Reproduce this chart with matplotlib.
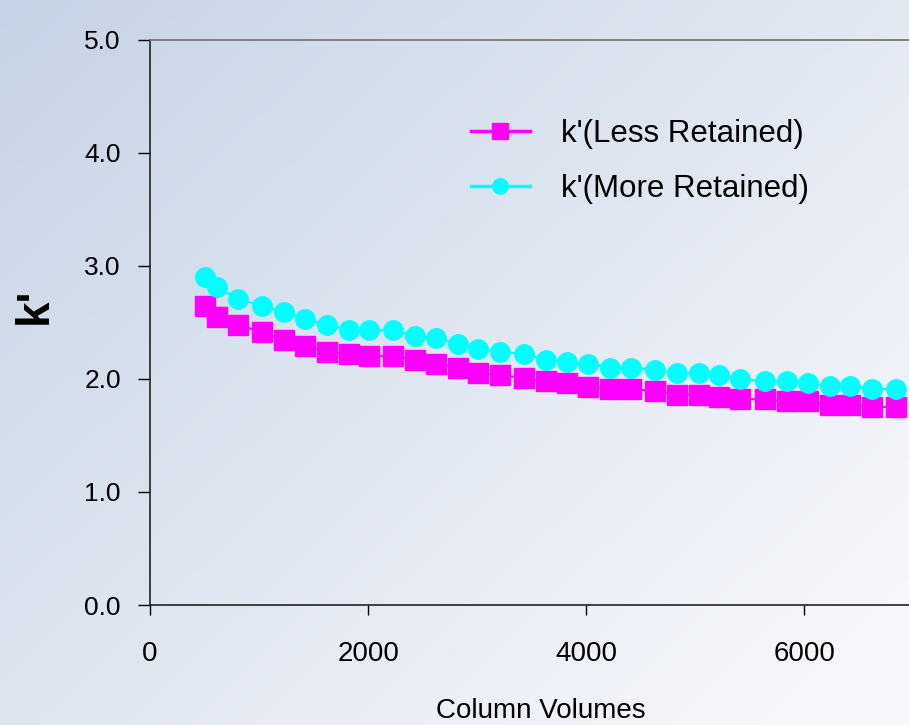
import matplotlib.pyplot as plt
import numpy as np

plt.rcParams["font.family"] = ["Liberation Sans", "DejaVu Sans"]

# column volumes and k' values
col_vol = [500, 610, 810, 1030, 1230, 1420, 1620, 1820, 2010, 2230, 2430,
           2620, 2820, 3010, 3210, 3430, 3630, 3820, 4020, 4220, 4410, 4630,
           4830, 5030, 5220, 5410, 5640, 5840, 6030, 6230, 6420, 6620, 6840]
k_less = [2.64, 2.55, 2.48, 2.41, 2.34, 2.29, 2.24, 2.22, 2.20, 2.20, 2.17,
          2.13, 2.10, 2.05, 2.03, 2.01, 1.98, 1.96, 1.93, 1.91, 1.91, 1.89,
          1.86, 1.86, 1.84, 1.82, 1.82, 1.80, 1.80, 1.77, 1.77, 1.75, 1.75]
k_more = [2.90, 2.81, 2.71, 2.64, 2.59, 2.53, 2.48, 2.43, 2.43, 2.43, 2.38,
          2.36, 2.31, 2.26, 2.24, 2.22, 2.17, 2.15, 2.13, 2.10, 2.10, 2.08,
          2.05, 2.05, 2.03, 2.00, 1.98, 1.98, 1.96, 1.94, 1.94, 1.91, 1.91]
x_ticks = [0, 2000, 4000, 6000]
y_ticks = [0, 1, 2, 3, 4, 5]
y_ticklabels = ["0.0", "1.0", "2.0", "3.0", "4.0", "5.0"]

fig = plt.figure(figsize=(9.09, 7.25), dpi=100)

# background gradient (blue-grey top left -> almost white bottom right)
bg = fig.add_axes([0, 0, 1, 1], zorder=-10)
gx, gy = np.meshgrid(np.linspace(0, 1, 300), np.linspace(0, 1, 240))
t = np.clip(0.6 * gx + 0.5 * gy, 0, 1)[..., None]
c0 = np.array([198, 211, 230]) / 255
c1 = np.array([246, 247, 251]) / 255
bg.imshow(c0 * (1 - t) + c1 * t, aspect="auto", extent=[0, 1, 0, 1], origin="upper")
bg.axis("off")

ax = fig.add_axes([0.165, 0.1655, 0.840, 0.780])
ax.patch.set_alpha(0)

ax.plot(col_vol, k_less, "-s", color="#ff00ff", lw=1.5, ms=14,
        mec="#ff00ff", label="k'(Less Retained)")
ax.plot(col_vol, k_more, "-o", color="#00ffff", lw=1.5, ms=14,
        mec="#00ffff", label="k'(More Retained)")

ax.set_xlim(0, 7000)
ax.set_ylim(0, 5)
ax.set_xticks(x_ticks)
ax.set_yticks(y_ticks)
ax.set_yticklabels(y_ticklabels)
ax.tick_params(axis="x", direction="out", length=7, width=1, pad=19, labelsize=20)
ax.tick_params(axis="y", direction="out", length=9, width=1, pad=12, labelsize=19)

ax.spines["right"].set_visible(False)
ax.spines["top"].set_color("#707070")
ax.spines["top"].set_linewidth(1.2)
ax.spines["left"].set_color("#222222")
ax.spines["bottom"].set_color("#222222")
ax.spines["left"].set_linewidth(1.2)
ax.spines["bottom"].set_linewidth(1.2)

ax.set_xlabel("Column Volumes", fontsize=20)
ax.xaxis.set_label_coords(0.512, -0.164)
ax.set_ylabel("k'", fontsize=33, fontweight="bold")
ax.yaxis.set_label_coords(-0.122, 0.53)

leg = ax.legend(loc="upper left", bbox_to_anchor=(0.42, 0.86), frameon=False,
                fontsize=22.5, markerscale=0.8, handlelength=1.9,
                handletextpad=1.0, labelspacing=0.8, borderpad=0,
                borderaxespad=0)
for ln in leg.get_lines():
    ln.set_linewidth(2.5)

plt.savefig("out.png")
